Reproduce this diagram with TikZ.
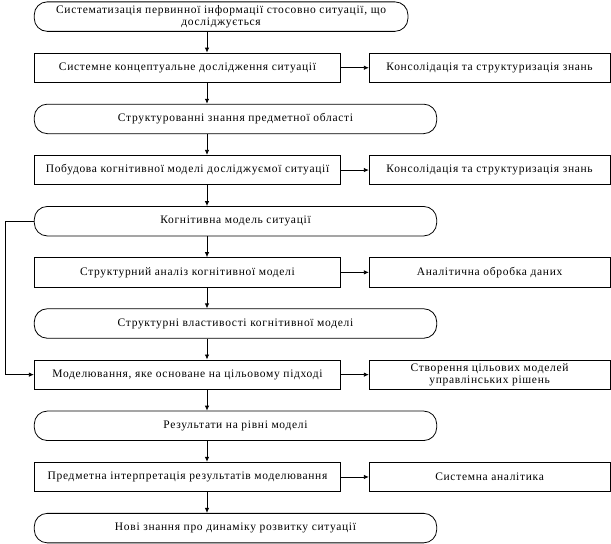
\documentclass[tikz,border=0pt]{standalone}
\usepackage{fontspec}
\setmainfont{Liberation Serif}[LetterSpace=6]
\usetikzlibrary{arrows.meta,calc}
\begin{document}
\begin{tikzpicture}[x=1pt,y=-1pt,
  every node/.style={font=\fontsize{11.5}{12.5}\selectfont, align=center, inner sep=0pt, line width=0.8pt},
  rbox/.style={draw, rectangle, rounded corners=13pt, minimum height=29.5pt},
  sbox/.style={draw, rectangle, minimum height=29.5pt},
  mainbox/.style={sbox, minimum width=306.4pt},
  longround/.style={rbox, minimum width=402.4pt},
  sidebox/.style={sbox, minimum width=240.7pt},
  conn/.style={line width=0.8pt, -{Latex[length=5pt,width=4.5pt]}}
]
\useasboundingbox (0,0) rectangle (611,544);
\def\dy{51.15}
\node[rbox, minimum width=373.7pt] (b1) at (221.1, 16.6) {Систематизація первинної інформації стосовно ситуації, що\\досліджується};
\node[mainbox] (b2) at (187.5, 16.6+\dy) {Системне концептуальне дослідження ситуації};
\node[sidebox] (s2) at (489.6, 16.6+\dy) {Консолідація та структуризація знань};
\node[longround] (b3) at (235.5, 16.6+2*\dy) {Структурованні знання предметної області};
\node[mainbox] (b4) at (187.5, 16.6+3*\dy) {Побудова когнітивної моделі досліджуємої ситуації};
\node[sidebox] (s4) at (489.6, 16.6+3*\dy) {Консолідація та структуризація знань};
\node[longround] (b5) at (235.5, 16.6+4*\dy) {Когнітивна модель ситуації};
\node[mainbox] (b6) at (187.5, 16.6+5*\dy) {Структурний аналіз когнітивної моделі};
\node[sidebox] (s6) at (489.6, 16.6+5*\dy) {Аналітична обробка даних};
\node[longround] (b7) at (235.5, 16.6+6*\dy) {Структурні властивості когнітивної моделі};
\node[mainbox] (b8) at (187.5, 16.6+7*\dy) {Моделювання, яке основане на цільовому підході};
\node[sidebox] (s8) at (489.6, 16.6+7*\dy) {Створення цільових моделей\\управлінських рішень};
\node[longround] (b9) at (235.5, 16.6+8*\dy) {Результати на рівні моделі};
\node[mainbox] (b10) at (187.5, 16.6+9*\dy) {Предметна інтерпретація результатів моделювання};
\node[sidebox] (s10) at (489.6, 16.6+9*\dy) {Системна аналітика};
\node[longround] (b11) at (235.5, 16.6+10*\dy) {Нові знання про динаміку розвитку ситуації};
\coordinate (ax) at (207,0);
\coordinate (fx) at (5.7,0);
\foreach \a/\b in {b1/b2,b2/b3,b3/b4,b4/b5,b5/b6,b6/b7,b7/b8,b8/b9,b9/b10,b10/b11}
  \draw[conn] (\a.south -| ax) -- (\b.north -| ax);
\foreach \a/\b in {b2/s2,b4/s4,b6/s6,b8/s8,b10/s10}
  \draw[conn] (\a.east) -- (\b.west);
\draw[conn] (b5.west) -- (b5.west -| fx) -- (b8.west -| fx) -- (b8.west);
\end{tikzpicture}
\end{document}
